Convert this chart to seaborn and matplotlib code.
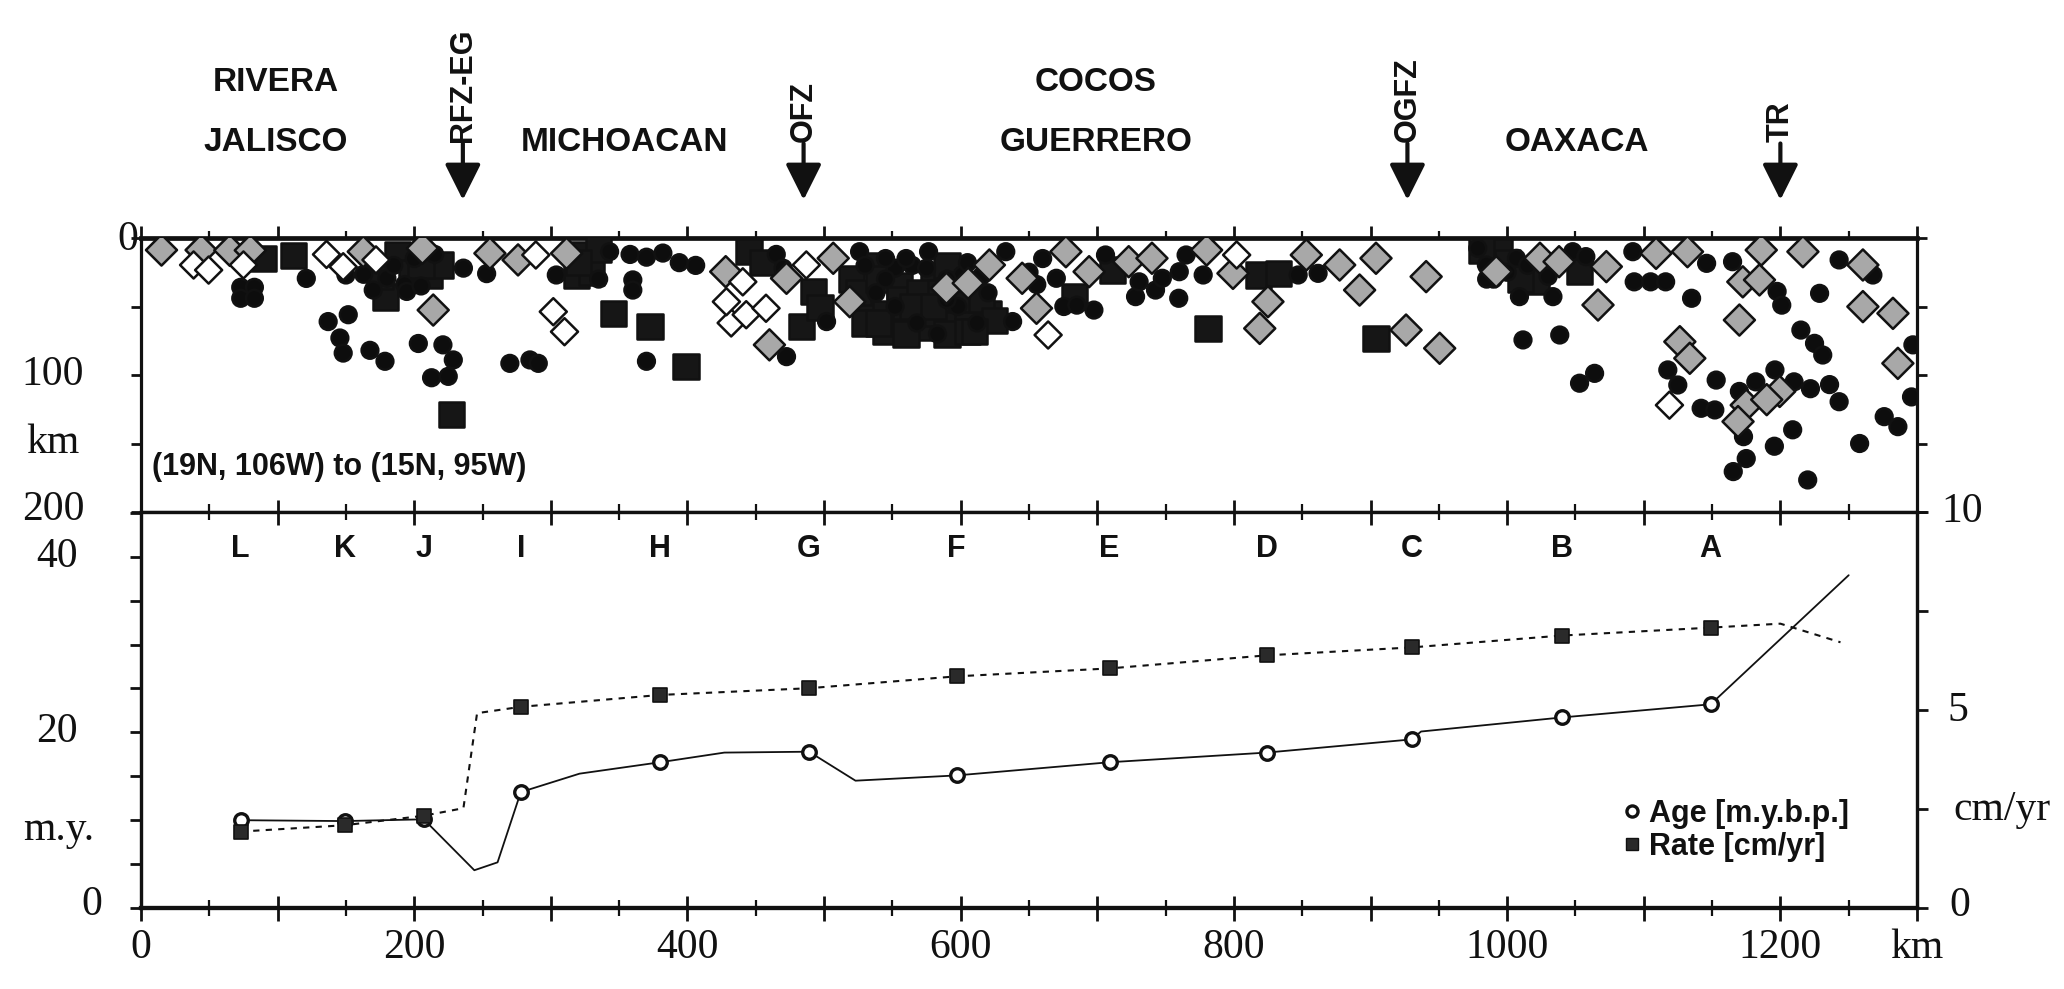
import numpy as np
import pandas as pd
import matplotlib
matplotlib.use("Agg")
import matplotlib.pyplot as plt
import matplotlib.transforms as mtransforms
from matplotlib.lines import Line2D
import seaborn as sns

# ---------------- data ----------------
# earthquake hypocentres: distance along profile (km), depth (km)
circle_km = [73, 83, 73, 83, 121, 150, 163, 180, 193, 194.5, 236, 253, 304,
             137, 151.7, 145.6, 148, 167.6, 178.6, 203, 221, 228.6, 212.7, 224.9, 270, 284.7, 290.8,
             335, 343, 358, 370, 382, 394, 406, 360, 360, 370, 472.5, 501.8, 526, 538, 552, 568,
             583, 598, 612, 552, 564.5, 576.5, 601, 638, 633, 545, 590, 620,
             655.7, 670, 675.5, 685, 697.5, 706, 728, 742.6, 759.6, 730.6, 747.6, 760, 765, 777.5,
             847, 861.6, 978.5, 984.8, 990, 1000,
             1006.8, 1009, 1033.5, 1048, 1057.6, 1092, 1146, 1093, 1105, 1116, 1135, 1165, 1243,
             1267.7, 1197.6, 1201, 1228.7, 1011.6, 1038.5, 1117.6, 1124.9, 1142, 1152, 1153, 1053,
             1064, 1215, 1225, 1231, 1196, 1297, 1170, 1182, 1210, 1222, 1236, 1243, 1173, 1175,
             1165.5, 1209, 1195.6, 1220, 1258, 1276, 1286, 1296,
             170, 185, 200, 215, 170, 205, 465, 470, 660, 650, 985, 1015, 1030,
             530, 545, 560, 575, 590, 605, 615]
circle_depth = [36, 36, 44, 44, 29.5, 27, 26.5, 29.4, 34, 39, 22, 26, 27,
                61, 56, 73, 84, 82, 90, 77, 78, 89, 102, 101, 91.5, 89, 91.5,
                30, 10, 12, 14, 11, 18, 20, 30.6, 38, 90, 86.6, 61, 10, 40, 50, 62,
                70, 50, 62, 22, 20, 10, 27, 61, 10, 30, 45, 40,
                34, 29.4, 50, 49, 52.6, 12.4, 42.8, 38, 44, 32, 29.4, 24.6, 12.4, 27,
                27, 25.8, 7.5, 19.7, 30, 25,
                14.8, 42.8, 42.8, 10, 13.6, 10, 18.5, 32, 32, 32, 44, 17.3, 16,
                27, 39, 49, 40.4, 74.4, 70.8, 96.3, 107.3, 124.3, 125.5, 103.7, 106,
                98.8, 67.2, 76.9, 85.4, 96.3, 78, 112, 105, 105, 110, 107, 119.5, 145, 161,
                170.5, 140, 152, 176.6, 150, 130.4, 137.7, 116,
                15, 20, 15, 12, 38, 35, 12, 22, 15, 25, 30, 20, 28,
                20, 15, 15, 22, 30, 18, 28]

square_km = [89.5, 111.5, 179, 188, 198, 211, 218.8, 227.3, 318.8, 325, 330, 345.6, 372.5,
             399, 445, 455, 483.5, 492, 497,
             530, 545, 560, 575, 590, 605, 620, 530, 545, 560, 575, 590, 605, 555, 580, 540,
             590, 520,
             683.5, 711.4, 781, 818, 832.5, 904, 994.6, 1021.5, 1052.7, 981, 1000,
             175, 205, 335, 320,
             525, 540, 555, 570, 585, 600, 615, 625, 610, 540, 565, 580, 1010]
square_depth = [15, 13, 43, 12, 25, 27, 19.7, 129, 27, 12, 25, 55, 64.7,
                94, 10, 18, 64.7, 39, 51,
                45, 55, 60, 65, 62, 60, 55, 62, 68, 70, 55, 70, 68, 35, 30, 20,
                20, 30,
                42.8, 23.4, 66, 27, 25.8, 73.2, 10, 32, 24.6, 9, 18,
                28, 20, 8, 18,
                40, 30, 45, 40, 40, 45, 45, 60, 68, 62, 50, 50, 30]

gray_km = [15, 44, 65, 80, 162.7, 206, 213.9, 255.4, 276, 311.5, 428, 460, 472.5, 506.7,
           518.8, 589.6, 605.5, 621, 645, 655.5, 677, 694, 723, 740, 780, 799.3, 818.9,
           824.9, 853, 877.4, 892, 904, 940.7, 926, 950.6, 992, 1024, 1038, 1072.6, 1066.5,
           1109, 1132, 1172.5, 1184.7, 1186, 1216.5, 1260.4, 1170, 1260.4, 1282.4, 1126.4,
           1133.7, 1286, 1199.5, 1175, 1169, 1190]
gray_depth = [8.8, 8.8, 9, 9, 10, 7.5, 52.6, 11.2, 16, 11.2, 24.6, 78, 29.4, 14.8,
              46.5, 36.7, 33, 19.7, 29.4, 51.3, 10, 24.6, 17.3, 14.8, 8.8, 25.8, 66,
              46.5, 12.4, 19.7, 38, 14.8, 28.2, 67.2, 80.5, 24.6, 14.8, 17.3, 20.9, 48.9,
              11.2, 10, 32, 30.6, 8.8, 10, 19.7, 59.9, 50.1, 55, 75.7,
              87.8, 91.5, 112, 122, 134, 118]

open_km = [38.5, 49.5, 75, 135.8, 148, 172, 289, 301.8, 310, 440.5, 432, 443, 428.5,
           457.5, 487, 664, 802, 1118.8]
open_depth = [19.7, 23.4, 19.7, 12, 21, 16, 12.4, 53.8, 68.4, 32, 62, 56, 46.5,
              51.3, 19.7, 70.8, 12.4, 122]

# plate age and convergence rate along the trench
profile_letters = ["L", "K", "J", "I", "H", "G", "F", "E", "D", "C", "B", "A"]
profile_km = [73, 149, 207, 278, 380, 489, 597, 709, 824, 930, 1040, 1149]

age_km = [73, 149, 207, 244, 261, 278, 321, 380, 427, 489, 523, 597, 709, 824, 930, 937,
          1040, 1149, 1250]
age_my = [10.0, 9.9, 10.1, 4.3, 5.2, 13.2, 15.3, 16.6, 17.7, 17.8, 14.5, 15.1, 16.6, 17.7,
          19.2, 20.1, 21.7, 23.2, 37.9]
age_marked = [1, 1, 1, 0, 0, 1, 0, 1, 0, 1, 0, 1, 1, 1, 1, 0, 1, 1, 0]

rate_km = [73, 149, 207, 236, 246, 278, 380, 489, 597, 709, 824, 930, 1040, 1149, 1200, 1244]
rate_cm = [1.93, 2.09, 2.33, 2.52, 4.92, 5.08, 5.38, 5.55, 5.85, 6.05, 6.38, 6.58, 6.88,
           7.08, 7.18, 6.71]
rate_marked = [1, 1, 1, 0, 0, 1, 1, 1, 1, 1, 1, 1, 1, 1, 0, 0]

region_top = [("RIVERA", 98.8), ("COCOS", 699)]
region_mid = [("JALISCO", 98.8), ("MICHOACAN", 354), ("GUERRERO", 699), ("OAXACA", 1051)]
fault_names = ["RFZ-EG", "OFZ", "OGFZ", "TR"]
fault_km = [235.6, 485, 927, 1200]

# ---------------- style ----------------
sns.set_theme(style="ticks")
plt.rcParams["font.family"] = ["Liberation Sans", "DejaVu Sans"]
SANS = "Liberation Sans"
SERIF = "Liberation Serif"
INK = "#111111"

W, H = 2064, 989
fig = plt.figure(figsize=(W / 100, H / 100), dpi=100)
fig.patch.set_facecolor("white")

left = 141 / W
width = (1917 - 141) / W
ax_t = fig.add_axes([left, 1 - 512 / H, width, (512 - 238) / H])
ax_b = fig.add_axes([left, 1 - 908 / H, width, (908 - 512) / H])
ax_r = ax_b.twinx()

# ---------------- top panel: seismicity ----------------
kinds = (["square"] * len(square_km) + ["circle"] * len(circle_km)
         + ["gray"] * len(gray_km) + ["open"] * len(open_km))
df_eq = pd.DataFrame({
    "km": square_km + circle_km + gray_km + open_km,
    "depth": square_depth + circle_depth + gray_depth + open_depth,
    "kind": kinds,
})
sns.scatterplot(data=df_eq, x="km", y="depth", hue="kind", style="kind", size="kind",
                palette={"square": "#161616", "circle": "#0d0d0d", "gray": "#a8a8a8", "open": "white"},
                markers={"square": "s", "circle": "o", "gray": "D", "open": "D"},
                sizes={"square": 330, "circle": 145, "gray": 250, "open": 190},
                edgecolor=INK, linewidth=1.8, legend=False, ax=ax_t, zorder=3)

ax_t.set_xlim(0, 1300)
ax_t.set_ylim(200, 0)
ax_t.set_xlabel("")
ax_t.set_ylabel("")
ax_t.set_xticks(np.arange(0, 1301, 100))
ax_t.set_xticks(np.arange(50, 1300, 100), minor=True)
ax_t.set_yticks([0, 50, 100, 150, 200])
ax_t.tick_params(axis="x", which="both", top=True, bottom=False, labeltop=False,
                 labelbottom=False, direction="out", color=INK)
ax_t.tick_params(axis="x", which="major", length=9, width=2)
ax_t.tick_params(axis="x", which="minor", length=5, width=1.6)
ax_t.tick_params(axis="y", which="both", left=True, right=True, labelleft=False,
                 labelright=False, direction="out", length=7, width=2, color=INK)
for side, sp in ax_t.spines.items():
    sp.set_visible(True)
    sp.set_color(INK)
    sp.set_linewidth(2.3)
ax_t.spines["top"].set_linewidth(3.4)

ax_t.text(0.006, 0.164, "(19N, 106W) to (15N, 95W)", transform=ax_t.transAxes,
          ha="left", va="center", fontsize=22, fontweight="bold", family=SANS, color=INK)

tr_top = mtransforms.blended_transform_factory(ax_t.transData, ax_t.transAxes)
for name, km in region_top:
    ax_t.text(km, 1.569, name, transform=tr_top, ha="center", va="center",
              fontsize=24, fontweight="bold", family=SANS, color=INK, clip_on=False)
for name, km in region_mid:
    ax_t.text(km, 1.350, name, transform=tr_top, ha="center", va="center",
              fontsize=24, fontweight="bold", family=SANS, color=INK, clip_on=False)
for name, km in zip(fault_names, fault_km):
    ax_t.text(km, 1.352, name, transform=tr_top, ha="center", va="bottom", rotation=90,
              fontsize=22, fontweight="bold", family=SANS, color=INK, clip_on=False)
    ax_t.annotate("", xy=(km, 1.139), xytext=(km, 1.345),
                  xycoords=("data", "axes fraction"), textcoords=("data", "axes fraction"),
                  arrowprops=dict(arrowstyle="-|>,head_length=1.1,head_width=0.55",
                                  mutation_scale=20, lw=3, color=INK,
                                  shrinkA=0, shrinkB=0),
                  annotation_clip=False)

# ---------------- bottom panel: age & rate ----------------
df_age = pd.DataFrame({"km": age_km, "age": age_my, "m": age_marked})
df_rate = pd.DataFrame({"km": rate_km, "rate": rate_cm, "m": rate_marked})

sns.lineplot(data=df_age, x="km", y="age", ax=ax_b, color=INK, lw=1.3,
             sort=False, estimator=None)
sns.scatterplot(data=df_age[df_age["m"] == 1], x="km", y="age", ax=ax_b, marker="o",
                s=95, color="white", edgecolor=INK, linewidth=2.4, zorder=4)
sns.lineplot(data=df_rate, x="km", y="rate", ax=ax_r, color=INK, lw=1.5,
             sort=False, estimator=None, linestyle=(0, (3, 3)))
sns.scatterplot(data=df_rate[df_rate["m"] == 1], x="km", y="rate", ax=ax_r, marker="s",
                s=95, color="#2a2a2a", edgecolor=INK, linewidth=1.2, zorder=4)

ax_b.set_xlim(0, 1300)
ax_b.set_ylim(0, 45.1)
ax_r.set_ylim(0, 10)
for a in (ax_b, ax_r):
    a.set_xlabel("")
    a.set_ylabel("")
ax_b.set_xticks(np.arange(0, 1301, 100))
ax_b.set_xticks(np.arange(50, 1300, 100), minor=True)
ax_b.set_yticks(np.arange(0, 45.1, 5))
ax_r.set_yticks(np.arange(0, 10.1, 2.5))
ax_b.tick_params(axis="x", which="both", top=True, bottom=True, labeltop=False,
                 labelbottom=False, direction="inout", color=INK)
ax_b.tick_params(axis="x", which="major", length=18, width=2)
ax_b.tick_params(axis="x", which="minor", length=11, width=1.6)
ax_b.tick_params(axis="y", which="both", left=True, right=False, labelleft=False,
                 direction="out", length=8, width=2, color=INK)
ax_r.tick_params(axis="y", which="both", right=True, left=False, labelright=False,
                 direction="out", length=8, width=2, color=INK)
for a in (ax_b, ax_r):
    for side, sp in a.spines.items():
        sp.set_visible(True)
        sp.set_color(INK)
        sp.set_linewidth(2.3)
ax_b.spines["bottom"].set_linewidth(3.0)
ax_r.spines["bottom"].set_linewidth(3.0)

tr_b = mtransforms.blended_transform_factory(ax_b.transData, ax_b.transAxes)
for lab, km in zip(profile_letters, profile_km):
    ax_b.text(km, 0.906, lab, transform=tr_b, ha="center", va="center",
              fontsize=22, fontweight="bold", family=SANS, color=INK)

for v in range(0, 1201, 200):
    ax_b.text(v, -0.101, str(v), transform=tr_b, ha="center", va="center",
              fontsize=30, family=SERIF, color=INK, clip_on=False)
ax_b.text(1300, -0.101, "km", transform=tr_b, ha="center", va="center",
          fontsize=30, family=SERIF, color=INK, clip_on=False)

# left / right axis labels placed at their tick heights
def ftext(x, y, s, **kw):
    fig.text(x / W, 1 - y / H, s, ha="center", va="center", fontsize=30,
             family=SERIF, color=INK, **kw)

ftext(128, 240, "0")
ftext(53, 375, "100")
ftext(53, 443, "km")
ftext(53, 510, "200")
ftext(57, 557, "40")
ftext(57, 732, "20")
ftext(59, 830, "m.y.")
ftext(92, 905, "0")
ftext(1962, 512, "10")
ftext(1958, 711, "5")
ftext(2002, 810, "cm/yr")
ftext(1960, 906, "0")

handles = [
    Line2D([], [], ls="", marker="o", ms=8, mfc="white", mec=INK, mew=2.4),
    Line2D([], [], ls="", marker="s", ms=8, mfc="#2a2a2a", mec=INK, mew=1),
]
leg = ax_r.legend(handles, ["Age [m.y.b.p.]", "Rate [cm/yr]"], loc="upper left",
                  bbox_to_anchor=(0.826, 0.315), frameon=False, handlelength=0.6,
                  handletextpad=0.25, labelspacing=0.1, borderpad=0,
                  prop={"family": SANS, "weight": "bold", "size": 22})
for t in leg.get_texts():
    t.set_color(INK)

fig.savefig("out.png", dpi=100, facecolor="white")
